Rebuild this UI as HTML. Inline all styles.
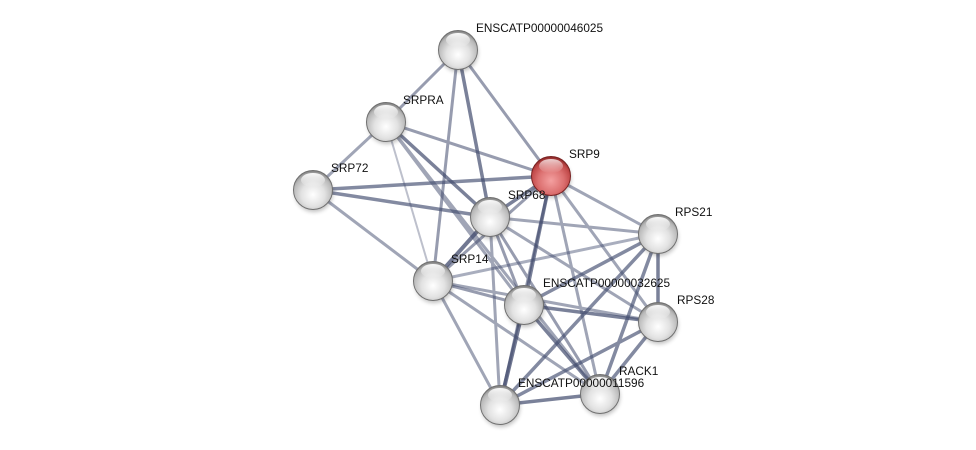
<!DOCTYPE html>
<html><head><meta charset="utf-8"><style>
html,body{margin:0;padding:0;background:#fff;}
svg{display:block;}
text{font-family:"Liberation Sans",Arial,sans-serif;font-size:11.8px;fill:#111;}
</style></head><body>
<svg width="976" height="450" viewBox="0 0 976 450" xmlns="http://www.w3.org/2000/svg" xmlns:xlink="http://www.w3.org/1999/xlink">
<defs>
<radialGradient id="gw" cx="50%" cy="62%" r="60%">
<stop offset="0" stop-color="#ffffff"/>
<stop offset="0.5" stop-color="#e2e2e2"/>
<stop offset="0.85" stop-color="#b8b8b8"/>
<stop offset="1" stop-color="#858585"/>
</radialGradient>
<radialGradient id="gr" cx="50%" cy="62%" r="60%">
<stop offset="0" stop-color="#f4a0a0"/>
<stop offset="0.55" stop-color="#dc7070"/>
<stop offset="0.85" stop-color="#c04848"/>
<stop offset="1" stop-color="#8e2a2a"/>
</radialGradient>
<linearGradient id="hl" x1="0" y1="0" x2="0" y2="1">
<stop offset="0" stop-color="#fff" stop-opacity="0.95"/>
<stop offset="1" stop-color="#fff" stop-opacity="0"/>
</linearGradient>
<filter id="sh" x="-50%" y="-50%" width="200%" height="200%"><feGaussianBlur stdDeviation="2"/></filter>
<g id="nw"><circle cx="1" cy="3" r="19" fill="#000" opacity="0.25" filter="url(#sh)"/><circle r="19.5" fill="url(#gw)" stroke="#707070" stroke-width="1"/><ellipse cy="-10" rx="12" ry="7" fill="url(#hl)"/></g>
<g id="nr"><circle cx="1" cy="3" r="19" fill="#000" opacity="0.25" filter="url(#sh)"/><circle r="19.5" fill="url(#gr)" stroke="#7a2222" stroke-width="1"/><ellipse cy="-10" rx="12" ry="7" fill="url(#hl)" opacity="0.8"/></g>
</defs>
<g stroke="#414b6e" fill="none">
<path stroke-width="2" stroke-opacity="0.35" d="M386 122L433 281"/>
<path stroke-width="3" stroke-opacity="0.5" d="M386 122L313 190M386 122L524 305M386 122L600 394M313 190L433 281M551 176L658 234M551 176L658 322M551 176L600 394M490 217L658 234M490 217L658 322M490 217L500 405M433 281L658 322M433 281L600 394M433 281L500 405"/>
<path stroke-width="3" stroke-opacity="0.45" d="M658 234L433 281"/>
<path stroke-width="3" stroke-opacity="0.55" d="M458 50L386 122M458 50L551 176M458 50L433 281M386 122L551 176M551 176L433 281M551 176L500 405M490 217L524 305M490 217L600 394M433 281L524 305"/>
<path stroke-width="3.5" stroke-opacity="0.65" d="M313 190L551 176M313 190L490 217M658 234L524 305M658 234L600 394M658 234L500 405M658 322L600 394M658 322L500 405"/>
<path stroke-width="3.5" stroke-opacity="0.7" d="M458 50L490 217M386 122L490 217M551 176L490 217M551 176L524 305M658 234L658 322M524 305L658 322M524 305L600 394M600 394L500 405"/>
<path stroke-width="4" stroke-opacity="0.75" d="M490 217L433 281M524 305L500 405"/>
</g>
<use xlink:href="#nw" href="#nw" x="458" y="50"/>
<use xlink:href="#nw" href="#nw" x="386" y="122"/>
<use xlink:href="#nw" href="#nw" x="313" y="190"/>
<use xlink:href="#nr" href="#nr" x="551" y="176"/>
<use xlink:href="#nw" href="#nw" x="490" y="217"/>
<use xlink:href="#nw" href="#nw" x="658" y="234"/>
<use xlink:href="#nw" href="#nw" x="433" y="281"/>
<use xlink:href="#nw" href="#nw" x="524" y="305"/>
<use xlink:href="#nw" href="#nw" x="658" y="322"/>
<use xlink:href="#nw" href="#nw" x="600" y="394"/>
<use xlink:href="#nw" href="#nw" x="500" y="405"/>
<text x="476" y="32">ENSCATP00000046025</text>
<text x="403" y="104">SRPRA</text>
<text x="331" y="172">SRP72</text>
<text x="569" y="158">SRP9</text>
<text x="508" y="199">SRP68</text>
<text x="675" y="216">RPS21</text>
<text x="451" y="263">SRP14</text>
<text x="543" y="287">ENSCATP00000032625</text>
<text x="677" y="304">RPS28</text>
<text x="619" y="375">RACK1</text>
<text x="518" y="387">ENSCATP00000011596</text>
</svg>
</body></html>
